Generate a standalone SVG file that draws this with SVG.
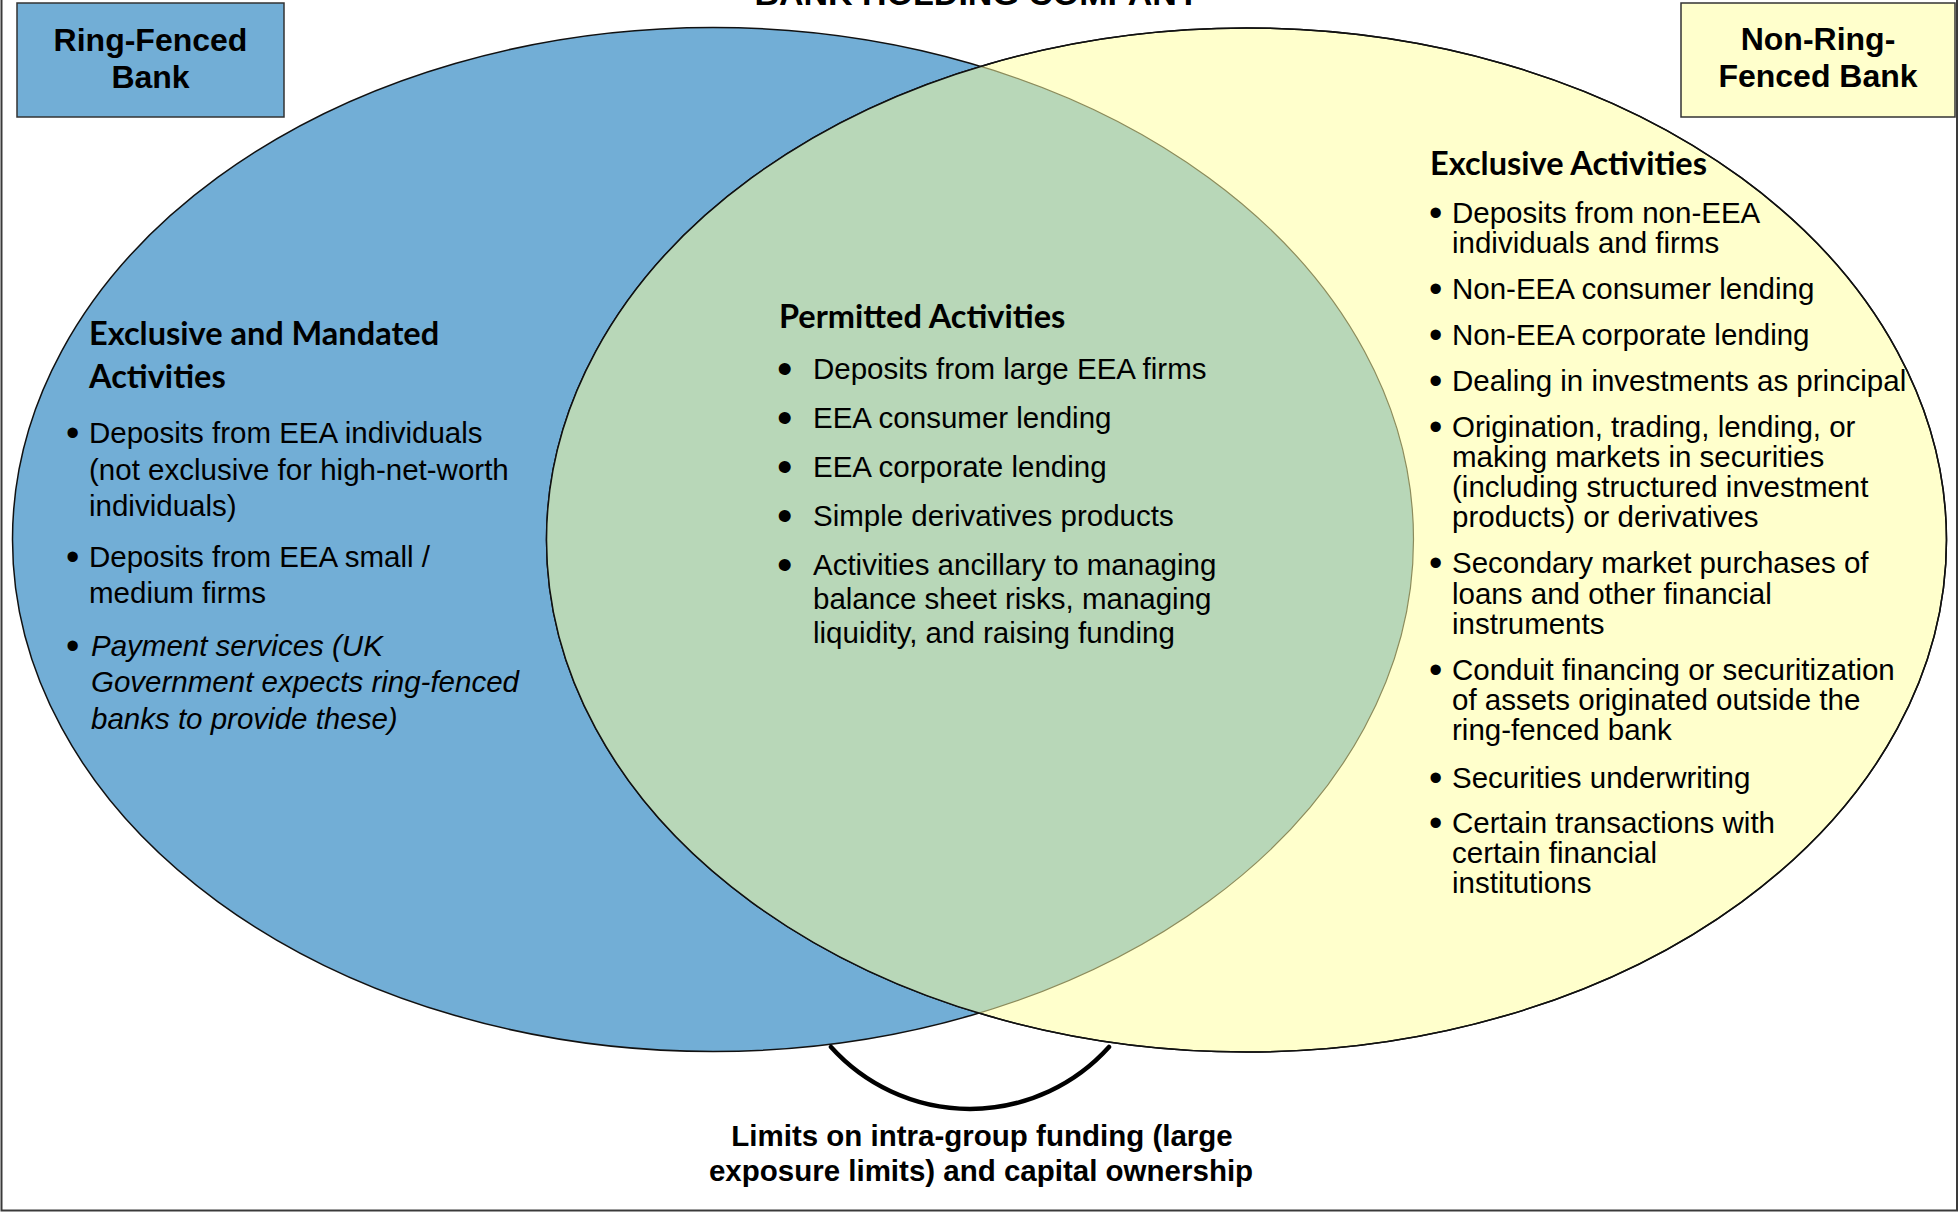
<svg xmlns="http://www.w3.org/2000/svg" width="1959" height="1213" viewBox="0 0 1959 1213">
<style>
.h{font-family:Lato,"Open Sans",sans-serif;font-weight:bold;font-size:32.5px;fill:#000}
.b{font-family:"Liberation Sans",Arial,sans-serif;font-size:29.5px;fill:#000}
.i{font-style:italic}
.dot{font-family:"Liberation Sans",Arial,sans-serif;font-size:38px;fill:#000}
.lbl{font-family:"Liberation Sans",Arial,sans-serif;font-weight:bold;font-size:32px;fill:#000;text-anchor:middle}
.box{stroke:#333;stroke-width:1.5}
</style>
<defs>
<clipPath id="clipBlue"><ellipse cx="713" cy="539.5" rx="700.5" ry="512"/></clipPath>
<clipPath id="clipY"><ellipse cx="1246.5" cy="540" rx="700" ry="512"/></clipPath>
</defs>
<rect width="1959" height="1213" fill="#fff"/>
<rect x="1.5" y="-20" width="1955.5" height="1230.5" fill="none" stroke="#3a3a3a" stroke-width="2"/>
<text class="lbl" x="977" y="5" style="font-size:34px">BANK HOLDING COMPANY</text>

<g id="ring-fenced-region">
<ellipse cx="713" cy="539.5" rx="700.5" ry="512" fill="#72aed6" stroke="#111" stroke-width="1.5"/>
</g>
<g id="non-ring-fenced-region">
<ellipse cx="1246.5" cy="540" rx="700" ry="512" fill="#ffffcc" stroke="#111" stroke-width="1.5"/>
</g>
<g id="permitted-region">
<ellipse cx="1246.5" cy="540" rx="700" ry="512" fill="#b8d7b8" clip-path="url(#clipBlue)"/>
<ellipse cx="713" cy="539.5" rx="700.5" ry="512" fill="none" stroke="#8c8c5c" stroke-width="1.2" clip-path="url(#clipY)"/>
<ellipse cx="1246.5" cy="540" rx="700" ry="512" fill="none" stroke="#111" stroke-width="1.5"/>
</g>

<g id="ring-fenced-bank">
<rect class="box" x="17" y="3" width="267" height="114" fill="#72aed6"/>
<text class="lbl"><tspan x="150.5" y="51">Ring-Fenced</tspan><tspan x="150.5" y="88">Bank</tspan></text>
</g>
<g id="non-ring-fenced-bank">
<rect class="box" x="1681" y="3" width="274" height="114" fill="#ffffcc"/>
<text class="lbl"><tspan x="1818" y="50">Non-Ring-</tspan><tspan x="1818" y="87">Fenced Bank</tspan></text>
</g>

<g id="exclusive-mandated">
<text class="h"><tspan x="89" y="345">Exclusive and Mandated</tspan><tspan x="89" y="388">Activities</tspan></text>
<text class="dot"><tspan x="66" y="446">•</tspan><tspan x="66" y="570">•</tspan><tspan x="66" y="659">•</tspan></text>
<text class="b"><tspan x="89" y="443">Deposits from EEA individuals</tspan><tspan x="89" y="480">(not exclusive for high-net-worth</tspan><tspan x="89" y="516">individuals)</tspan><tspan x="89" y="567">Deposits from EEA small /</tspan><tspan x="89" y="603">medium firms</tspan></text>
<text class="b i"><tspan x="91" y="656">Payment services (UK</tspan><tspan x="91" y="692">Government expects ring-fenced</tspan><tspan x="91" y="729">banks to provide these)</tspan></text>
</g>

<g id="permitted-activities">
<text class="h"><tspan x="779" y="328">Permitted Activities</tspan></text>
<text class="dot" style="font-size:44px"><tspan x="777" y="384">•</tspan><tspan x="777" y="433">•</tspan><tspan x="777" y="482">•</tspan><tspan x="777" y="531">•</tspan><tspan x="777" y="580">•</tspan></text>
<text class="b"><tspan x="813" y="379">Deposits from large EEA firms</tspan><tspan x="813" y="428">EEA consumer lending</tspan><tspan x="813" y="477">EEA corporate lending</tspan><tspan x="813" y="526">Simple derivatives products</tspan><tspan x="813" y="575">Activities ancillary to managing</tspan><tspan x="813" y="609">balance sheet risks, managing</tspan><tspan x="813" y="643">liquidity, and raising funding</tspan></text>
</g>

<g id="exclusive-activities">
<text class="h"><tspan x="1430" y="175">Exclusive Activities</tspan></text>
<text class="dot"><tspan x="1429" y="226">•</tspan><tspan x="1429" y="302">•</tspan><tspan x="1429" y="348">•</tspan><tspan x="1429" y="394">•</tspan><tspan x="1429" y="440">•</tspan><tspan x="1429" y="576">•</tspan><tspan x="1429" y="683">•</tspan><tspan x="1429" y="791">•</tspan><tspan x="1429" y="836">•</tspan></text>
<text class="b"><tspan x="1452" y="223">Deposits from non-EEA</tspan><tspan x="1452" y="253">individuals and firms</tspan><tspan x="1452" y="299">Non-EEA consumer lending</tspan><tspan x="1452" y="345">Non-EEA corporate lending</tspan><tspan x="1452" y="391">Dealing in investments as principal</tspan><tspan x="1452" y="437">Origination, trading, lending, or</tspan><tspan x="1452" y="467">making markets in securities</tspan><tspan x="1452" y="497">(including structured investment</tspan><tspan x="1452" y="527">products) or derivatives</tspan><tspan x="1452" y="573">Secondary market purchases of</tspan><tspan x="1452" y="604">loans and other financial</tspan><tspan x="1452" y="634">instruments</tspan><tspan x="1452" y="680">Conduit financing or securitization</tspan><tspan x="1452" y="710">of assets originated outside the</tspan><tspan x="1452" y="740">ring-fenced bank</tspan><tspan x="1452" y="788">Securities underwriting</tspan><tspan x="1452" y="833">Certain transactions with</tspan><tspan x="1452" y="863">certain financial</tspan><tspan x="1452" y="893">institutions</tspan></text>
</g>

<g id="connectors">
<path d="M 831 1047 A 187 187 0 0 0 1109 1047" fill="none" stroke="#000" stroke-width="4.5" stroke-linecap="round"/>
</g>
<g id="intra-group-limits">
<text class="lbl" style="font-size:29.5px"><tspan x="982" y="1146">Limits on intra-group funding (large</tspan><tspan x="981" y="1181">exposure limits) and capital ownership</tspan></text>
</g>
</svg>
